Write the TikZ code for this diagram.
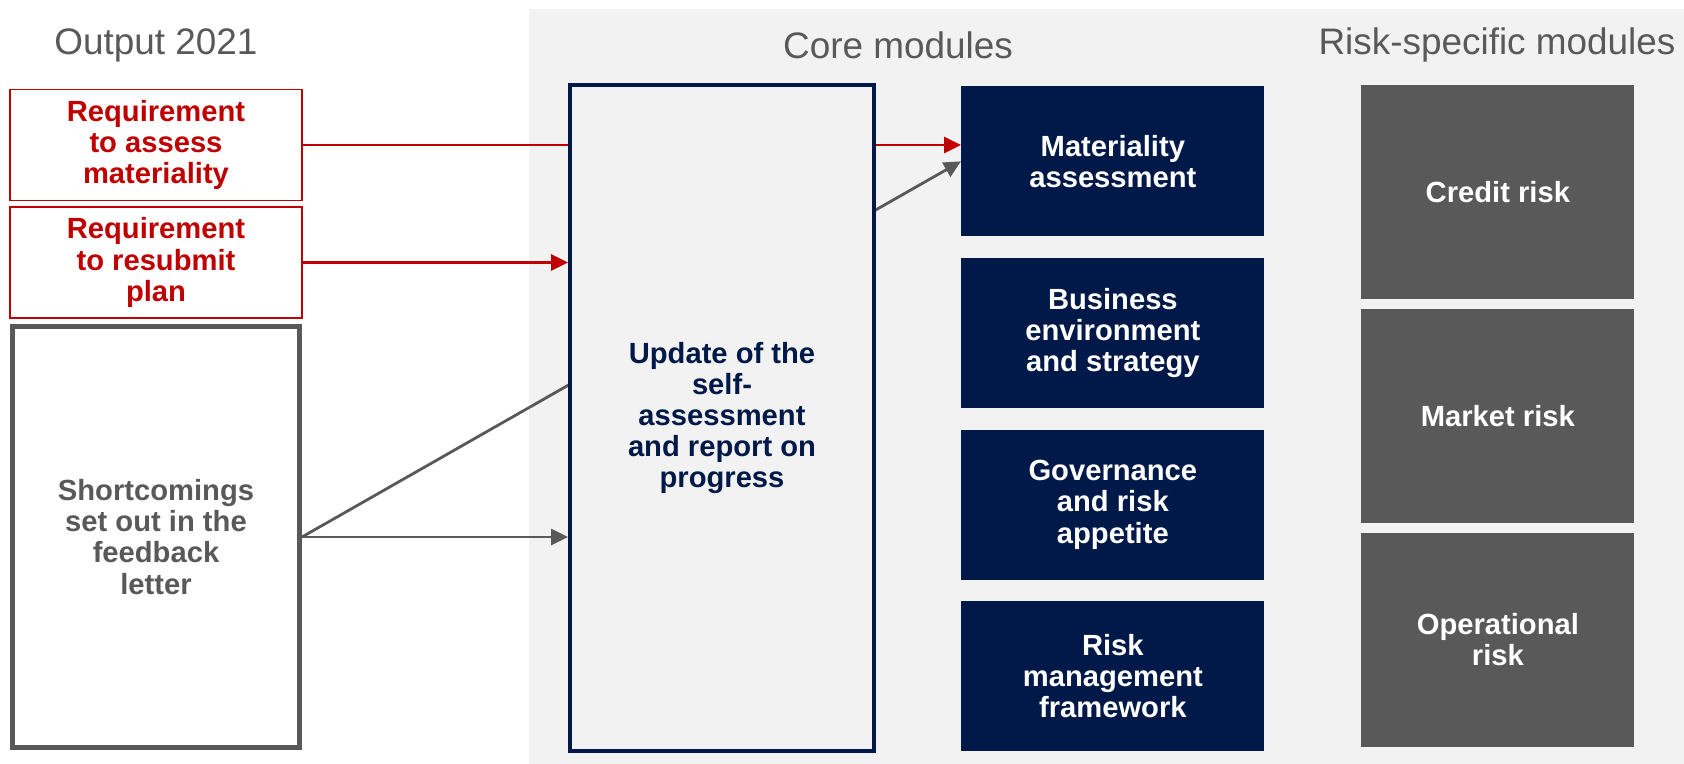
\documentclass[tikz,border=0pt]{standalone}
\usepackage{fontspec}
\setmainfont{Liberation Sans}
\usepackage{xcolor}
\usepackage{tikz}
\usetikzlibrary{arrows.meta,positioning,calc}

\definecolor{ecbnavy}{RGB}{0,25,72}
\definecolor{ecbred}{RGB}{192,0,0}
\definecolor{ecbgrey}{RGB}{89,89,89}
\definecolor{panelgrey}{RGB}{242,242,242}

\begin{document}
\begin{tikzpicture}[
    title/.style={font=\fontsize{21}{24}\selectfont, text=ecbgrey},
    boxtext/.style={font=\fontsize{16.6}{17.7}\selectfont\bfseries, align=center, inner sep=0pt},
    reqbox/.style={boxtext, rectangle, draw=ecbred, line width=1.1pt, fill=white, text=ecbred,
        minimum width=5.84cm, minimum height=2.22cm},
    gapbox/.style={boxtext, rectangle, draw=ecbgrey, line width=2.8pt, fill=white, text=ecbgrey,
        minimum width=5.74cm, minimum height=8.42cm},
    corebox/.style={boxtext, rectangle, fill=ecbnavy, text=white,
        minimum width=6.06cm, minimum height=3.0cm},
    riskbox/.style={boxtext, rectangle, fill=ecbgrey, text=white,
        minimum width=5.46cm, minimum height=4.28cm},
    redlink/.style={draw=ecbred, line width=1.6pt},
    greylink/.style={draw=ecbgrey, line width=1.6pt},
    tip/.style={-{Triangle[length=0.34cm,width=0.32cm]}}
]
\useasboundingbox (0,0) rectangle (33.68,-15.28);

% Panel behind the modules
\fill[panelgrey] (10.58,-0.18) rectangle (33.68,-15.28);

% Column titles
\node[title] (outtitle) at (3.12,-0.9) {Output 2021};
\node[title] (coretitle) at (17.96,-0.9) {Core modules};
\node[title] (risktitle) at (29.94,-0.9) {Risk-specific modules};

% Output 2021
\node[reqbox] (req1) at (3.12,-2.90) {Requirement\\to assess\\materiality};
\node[reqbox] (req2) at (3.12,-5.25) {Requirement\\to resubmit\\plan};
\node[gapbox] (short) at (3.12,-10.74) {Shortcomings\\set out in the\\feedback\\letter};

% Core modules
\node[corebox, anchor=north west] (mat) at (19.22,-1.72) {Materiality\\assessment};
\node[corebox, below=0.42cm of mat] (bus) {Business\\environment\\and strategy};
\node[corebox, below=0.42cm of bus] (gov) {Governance\\and risk\\appetite};
\node[corebox, below=0.42cm of gov] (rmf) {Risk\\management\\framework};

% Risk-specific modules
\node[riskbox, anchor=north west] (credit) at (27.22,-1.70) {Credit risk};
\node[riskbox, below=0.18cm of credit] (market) {Market risk};
\node[riskbox, below=0.18cm of market] (oprisk) {Operational\\risk};

% Links passing behind the update box
\draw[redlink, tip] (req1.east) -- (mat.west |- req1.east);
\draw[greylink, tip] (short.east) -- (mat.west);

% Update box, drawn over the links
\node[boxtext, rectangle, draw=ecbnavy, line width=2.2pt, fill=panelgrey, text=ecbnavy,
    minimum width=6.08cm, minimum height=13.32cm] (update) at (14.44,-8.36)
    {Update of the\\self-\\assessment\\and report on\\progress};

\draw[redlink, tip] (req2.east) -- (update.west |- req2.east);
\draw[greylink, tip] (short.east) -- (update.west |- short.east);

\end{tikzpicture}
\end{document}
